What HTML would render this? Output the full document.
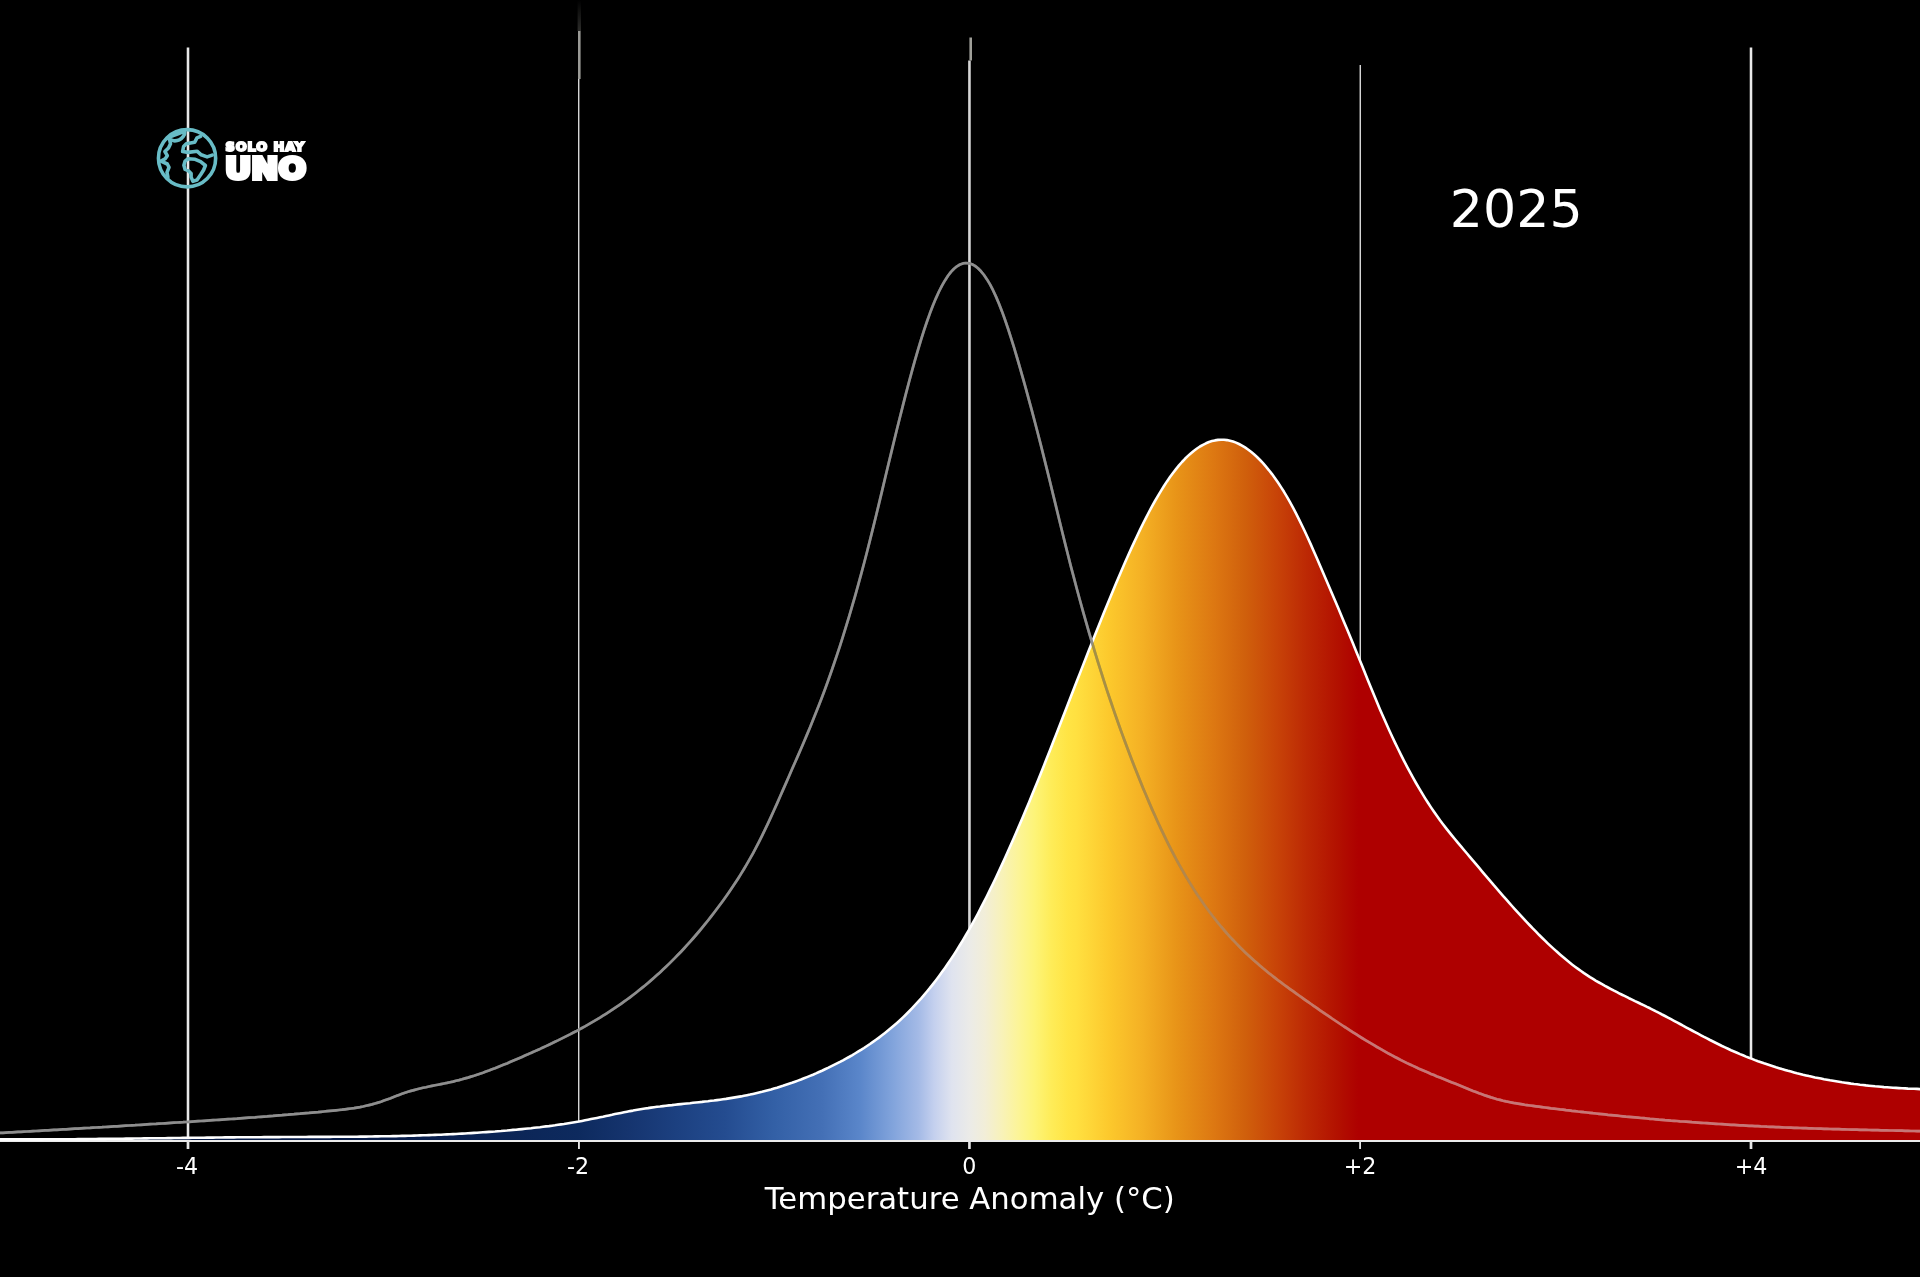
<!DOCTYPE html>
<html lang="es"><head><meta charset="utf-8"><title>Temperature Anomaly 2025</title>
<style>
html,body{margin:0;padding:0;background:#000;}
body{width:1920px;height:1277px;overflow:hidden;position:relative;font-family:"DejaVu Sans","Liberation Sans",sans-serif;}
svg{position:absolute;left:0;top:0;display:block}
text{font-family:"DejaVu Sans","Liberation Sans",sans-serif;fill:#fff}
.logo text{font-family:"DejaVu Sans","Liberation Sans",sans-serif;font-weight:bold;stroke:#fff}
</style></head><body>
<svg width="1920" height="1277" viewBox="0 0 1920 1277">
<defs><linearGradient id="glow" gradientUnits="userSpaceOnUse" x1="0" y1="0" x2="0" y2="31"><stop offset="0" stop-color="#8c8c86" stop-opacity="0"/><stop offset="1" stop-color="#8c8c86" stop-opacity="0.32"/></linearGradient><linearGradient id="g" gradientUnits="userSpaceOnUse" x1="0" y1="0" x2="1920" y2="0"><stop offset="0.1995" stop-color="#081c48"/><stop offset="0.3013" stop-color="#0d2a5e"/><stop offset="0.3267" stop-color="#15346e"/><stop offset="0.3522" stop-color="#1c4080"/><stop offset="0.3776" stop-color="#244c90"/><stop offset="0.4031" stop-color="#3360a6"/><stop offset="0.4285" stop-color="#4470b6"/><stop offset="0.4479" stop-color="#5a86ca"/><stop offset="0.4652" stop-color="#82a4dc"/><stop offset="0.4784" stop-color="#a4bae6"/><stop offset="0.4865" stop-color="#c4d0ee"/><stop offset="0.4957" stop-color="#dfe3ef"/><stop offset="0.5048" stop-color="#ebebe8"/><stop offset="0.5130" stop-color="#f2eed8"/><stop offset="0.5221" stop-color="#f8f2b8"/><stop offset="0.5303" stop-color="#fcf498"/><stop offset="0.5389" stop-color="#fdf478"/><stop offset="0.5476" stop-color="#feec58"/><stop offset="0.5562" stop-color="#ffe444"/><stop offset="0.5608" stop-color="#ffe040"/><stop offset="0.5781" stop-color="#fcc82c"/><stop offset="0.5954" stop-color="#f4b024"/><stop offset="0.6127" stop-color="#e89418"/><stop offset="0.6321" stop-color="#dd7812"/><stop offset="0.6483" stop-color="#d0600c"/><stop offset="0.6646" stop-color="#c84408"/><stop offset="0.6809" stop-color="#bc2804"/><stop offset="0.6972" stop-color="#b21000"/><stop offset="0.7074" stop-color="#ae0000"/></linearGradient></defs>
<rect width="1920" height="1277" fill="#000"/>
<!-- vertical grid lines -->
<g stroke="#e6e6e6" fill="none">
<line x1="188" y1="47.5" x2="188" y2="1149" stroke="#e8e8e8" stroke-width="2.55"/>
<line x1="578.71" y1="79" x2="578.71" y2="1149" stroke="#d4d4d4" stroke-width="1.42"/>
<rect x="577.6" y="0" width="3.4" height="31" fill="url(#glow)" stroke="none"/>
<line x1="579.3" y1="31" x2="579.3" y2="79" stroke="#9a9a96" stroke-width="2.6"/>
<line x1="969.45" y1="60.5" x2="969.45" y2="1149" stroke="#d6d6d6" stroke-width="2.6"/>
<line x1="970.7" y1="37.5" x2="970.7" y2="60.5" stroke="#a0a09a" stroke-width="2.6"/>
<line x1="1360.28" y1="65" x2="1360.28" y2="1149" stroke="#d4d4d4" stroke-width="1.45"/>
<line x1="1751" y1="47.5" x2="1751" y2="1149" stroke="#e8e8e8" stroke-width="2.55"/>
</g>
<!-- filled distribution -->
<path d="M-3.0,1139.4 L0.0,1139.4 L3.0,1139.4 L6.0,1139.4 L9.0,1139.4 L12.0,1139.4 L15.0,1139.4 L18.0,1139.4 L21.0,1139.4 L24.0,1139.4 L27.0,1139.4 L30.0,1139.4 L33.0,1139.4 L36.0,1139.4 L39.0,1139.4 L42.0,1139.4 L45.0,1139.3 L48.0,1139.3 L51.0,1139.3 L54.0,1139.3 L57.0,1139.3 L60.0,1139.3 L63.0,1139.2 L66.0,1139.2 L69.0,1139.2 L72.0,1139.2 L75.0,1139.2 L78.0,1139.1 L81.0,1139.1 L84.0,1139.1 L87.0,1139.1 L90.0,1139.0 L93.0,1139.0 L96.0,1139.0 L99.0,1138.9 L102.0,1138.9 L105.0,1138.9 L108.0,1138.8 L111.0,1138.8 L114.0,1138.8 L117.0,1138.7 L120.0,1138.7 L123.0,1138.7 L126.0,1138.6 L129.0,1138.6 L132.0,1138.6 L135.0,1138.5 L138.0,1138.5 L141.0,1138.5 L144.0,1138.4 L147.0,1138.4 L150.0,1138.3 L153.0,1138.3 L156.0,1138.3 L159.0,1138.2 L162.0,1138.2 L165.0,1138.2 L168.0,1138.1 L171.0,1138.1 L174.0,1138.0 L177.0,1138.0 L180.0,1138.0 L183.0,1137.9 L186.0,1137.9 L189.0,1137.9 L192.0,1137.8 L195.0,1137.8 L198.0,1137.7 L201.0,1137.7 L204.0,1137.7 L207.0,1137.6 L210.0,1137.6 L213.0,1137.6 L216.0,1137.5 L219.0,1137.5 L222.0,1137.5 L225.0,1137.4 L228.0,1137.4 L231.0,1137.4 L234.0,1137.4 L237.0,1137.3 L240.0,1137.3 L243.0,1137.3 L246.0,1137.3 L249.0,1137.2 L252.0,1137.2 L255.0,1137.2 L258.0,1137.2 L261.0,1137.2 L264.0,1137.1 L267.0,1137.1 L270.0,1137.1 L273.0,1137.1 L276.0,1137.1 L279.0,1137.1 L282.0,1137.0 L285.0,1137.0 L288.0,1137.0 L291.0,1137.0 L294.0,1137.0 L297.0,1137.0 L300.0,1137.0 L303.0,1137.0 L306.0,1137.0 L309.0,1136.9 L312.0,1136.9 L315.0,1136.9 L318.0,1136.9 L321.0,1136.9 L324.0,1136.9 L327.0,1136.9 L330.0,1136.9 L333.0,1136.8 L336.0,1136.8 L339.0,1136.8 L342.0,1136.8 L345.0,1136.8 L348.0,1136.7 L351.0,1136.7 L354.0,1136.7 L357.0,1136.7 L360.0,1136.6 L363.0,1136.6 L366.0,1136.6 L369.0,1136.5 L372.0,1136.5 L375.0,1136.4 L378.0,1136.4 L381.0,1136.3 L384.0,1136.3 L387.0,1136.2 L390.0,1136.2 L393.0,1136.1 L396.0,1136.1 L399.0,1136.0 L402.0,1135.9 L405.0,1135.9 L408.0,1135.8 L411.0,1135.7 L414.0,1135.6 L417.0,1135.5 L420.0,1135.4 L423.0,1135.3 L426.0,1135.2 L429.0,1135.1 L432.0,1135.0 L435.0,1134.9 L438.0,1134.8 L441.0,1134.7 L444.0,1134.5 L447.0,1134.4 L450.0,1134.3 L453.0,1134.1 L456.0,1134.0 L459.0,1133.8 L462.0,1133.6 L465.0,1133.5 L468.0,1133.3 L471.0,1133.1 L474.0,1132.9 L477.0,1132.7 L480.0,1132.5 L483.0,1132.3 L486.0,1132.1 L489.0,1131.9 L492.0,1131.7 L495.0,1131.5 L498.0,1131.2 L501.0,1131.0 L504.0,1130.7 L507.0,1130.5 L510.0,1130.2 L513.0,1129.9 L516.0,1129.7 L519.0,1129.4 L522.0,1129.1 L525.0,1128.8 L528.0,1128.5 L531.0,1128.2 L534.0,1127.8 L537.0,1127.5 L540.0,1127.2 L543.0,1126.8 L546.0,1126.4 L549.0,1126.1 L552.0,1125.7 L555.0,1125.3 L558.0,1124.8 L561.0,1124.4 L564.0,1124.0 L567.0,1123.5 L570.0,1123.0 L573.0,1122.5 L576.0,1122.0 L579.0,1121.5 L582.0,1120.9 L585.0,1120.3 L588.0,1119.7 L591.0,1119.1 L594.0,1118.5 L597.0,1117.9 L600.0,1117.3 L603.0,1116.7 L606.0,1116.0 L609.0,1115.4 L612.0,1114.8 L615.0,1114.1 L618.0,1113.5 L621.0,1112.9 L624.0,1112.3 L627.0,1111.7 L630.0,1111.1 L633.0,1110.6 L636.0,1110.0 L639.0,1109.5 L642.0,1109.0 L645.0,1108.5 L648.0,1108.1 L651.0,1107.6 L654.0,1107.2 L657.0,1106.8 L660.0,1106.5 L663.0,1106.1 L666.0,1105.7 L669.0,1105.4 L672.0,1105.1 L675.0,1104.7 L678.0,1104.4 L681.0,1104.1 L684.0,1103.8 L687.0,1103.5 L690.0,1103.2 L693.0,1102.8 L696.0,1102.5 L699.0,1102.2 L702.0,1101.9 L705.0,1101.5 L708.0,1101.2 L711.0,1100.8 L714.0,1100.5 L717.0,1100.1 L720.0,1099.7 L723.0,1099.3 L726.0,1098.9 L729.0,1098.4 L732.0,1097.9 L735.0,1097.4 L738.0,1096.9 L741.0,1096.4 L744.0,1095.8 L747.0,1095.2 L750.0,1094.6 L753.0,1093.9 L756.0,1093.2 L759.0,1092.5 L762.0,1091.8 L765.0,1091.0 L768.0,1090.2 L771.0,1089.4 L774.0,1088.5 L777.0,1087.7 L780.0,1086.7 L783.0,1085.8 L786.0,1084.8 L789.0,1083.8 L792.0,1082.8 L795.0,1081.7 L798.0,1080.6 L801.0,1079.5 L804.0,1078.3 L807.0,1077.1 L810.0,1075.9 L813.0,1074.7 L816.0,1073.4 L819.0,1072.0 L822.0,1070.7 L825.0,1069.3 L828.0,1067.9 L831.0,1066.4 L834.0,1064.9 L837.0,1063.4 L840.0,1061.9 L843.0,1060.3 L846.0,1058.6 L849.0,1057.0 L852.0,1055.3 L855.0,1053.5 L858.0,1051.7 L861.0,1049.9 L864.0,1048.0 L867.0,1046.0 L870.0,1044.0 L873.0,1041.9 L876.0,1039.8 L879.0,1037.6 L882.0,1035.3 L885.0,1033.0 L888.0,1030.6 L891.0,1028.1 L894.0,1025.5 L897.0,1022.9 L900.0,1020.2 L903.0,1017.4 L906.0,1014.5 L909.0,1011.5 L912.0,1008.4 L915.0,1005.2 L918.0,1001.9 L921.0,998.6 L924.0,995.1 L927.0,991.5 L930.0,987.9 L933.0,984.1 L936.0,980.2 L939.0,976.2 L942.0,972.1 L945.0,967.9 L948.0,963.6 L951.0,959.1 L954.0,954.6 L957.0,949.9 L960.0,945.0 L963.0,940.1 L966.0,935.0 L969.0,929.8 L972.0,924.5 L975.0,919.0 L978.0,913.5 L981.0,907.7 L984.0,901.9 L987.0,896.0 L990.0,889.9 L993.0,883.7 L996.0,877.5 L999.0,871.1 L1002.0,864.6 L1005.0,858.0 L1008.0,851.4 L1011.0,844.6 L1014.0,837.8 L1017.0,830.8 L1020.0,823.8 L1023.0,816.8 L1026.0,809.6 L1029.0,802.4 L1032.0,795.1 L1035.0,787.8 L1038.0,780.4 L1041.0,772.9 L1044.0,765.4 L1047.0,757.8 L1050.0,750.2 L1053.0,742.6 L1056.0,734.9 L1059.0,727.2 L1062.0,719.5 L1065.0,711.8 L1068.0,704.0 L1071.0,696.3 L1074.0,688.5 L1077.0,680.8 L1080.0,673.1 L1083.0,665.4 L1086.0,657.7 L1089.0,650.1 L1092.0,642.5 L1095.0,634.9 L1098.0,627.4 L1101.0,620.0 L1104.0,612.6 L1107.0,605.3 L1110.0,598.0 L1113.0,590.8 L1116.0,583.6 L1119.0,576.5 L1122.0,569.5 L1125.0,562.6 L1128.0,555.8 L1131.0,549.1 L1134.0,542.6 L1137.0,536.2 L1140.0,529.9 L1143.0,523.8 L1146.0,517.8 L1149.0,512.0 L1152.0,506.4 L1155.0,501.0 L1158.0,495.8 L1161.0,490.8 L1164.0,486.0 L1167.0,481.4 L1170.0,477.1 L1173.0,473.0 L1176.0,469.1 L1179.0,465.4 L1182.0,462.0 L1185.0,458.8 L1188.0,455.9 L1191.0,453.2 L1194.0,450.7 L1197.0,448.5 L1200.0,446.5 L1203.0,444.8 L1206.0,443.3 L1209.0,442.0 L1212.0,441.1 L1215.0,440.4 L1218.0,439.9 L1221.0,439.7 L1224.0,439.8 L1227.0,440.1 L1230.0,440.7 L1233.0,441.5 L1236.0,442.6 L1239.0,444.0 L1242.0,445.6 L1245.0,447.4 L1248.0,449.5 L1251.0,451.8 L1254.0,454.3 L1257.0,457.0 L1260.0,460.0 L1263.0,463.2 L1266.0,466.7 L1269.0,470.3 L1272.0,474.1 L1275.0,478.2 L1278.0,482.5 L1281.0,487.1 L1284.0,491.8 L1287.0,496.8 L1290.0,502.1 L1293.0,507.6 L1296.0,513.3 L1299.0,519.3 L1302.0,525.5 L1305.0,531.8 L1308.0,538.3 L1311.0,544.9 L1314.0,551.7 L1317.0,558.5 L1320.0,565.4 L1323.0,572.4 L1326.0,579.4 L1329.0,586.4 L1332.0,593.5 L1335.0,600.5 L1338.0,607.6 L1341.0,614.7 L1344.0,621.9 L1347.0,629.1 L1350.0,636.3 L1353.0,643.6 L1356.0,650.9 L1359.0,658.2 L1362.0,665.6 L1365.0,673.0 L1368.0,680.5 L1371.0,687.8 L1374.0,695.1 L1377.0,702.3 L1380.0,709.4 L1383.0,716.3 L1386.0,723.1 L1389.0,729.8 L1392.0,736.3 L1395.0,742.6 L1398.0,748.8 L1401.0,754.9 L1404.0,760.8 L1407.0,766.6 L1410.0,772.2 L1413.0,777.7 L1416.0,783.0 L1419.0,788.2 L1422.0,793.2 L1425.0,798.1 L1428.0,802.8 L1431.0,807.4 L1434.0,811.8 L1437.0,816.1 L1440.0,820.3 L1443.0,824.2 L1446.0,828.1 L1449.0,831.9 L1452.0,835.6 L1455.0,839.3 L1458.0,842.9 L1461.0,846.4 L1464.0,850.0 L1467.0,853.5 L1470.0,857.1 L1473.0,860.6 L1476.0,864.2 L1479.0,867.7 L1482.0,871.3 L1485.0,874.8 L1488.0,878.3 L1491.0,881.8 L1494.0,885.4 L1497.0,888.8 L1500.0,892.3 L1503.0,895.8 L1506.0,899.2 L1509.0,902.6 L1512.0,906.0 L1515.0,909.3 L1518.0,912.6 L1521.0,915.9 L1524.0,919.2 L1527.0,922.4 L1530.0,925.5 L1533.0,928.7 L1536.0,931.7 L1539.0,934.8 L1542.0,937.7 L1545.0,940.7 L1548.0,943.6 L1551.0,946.4 L1554.0,949.1 L1557.0,951.8 L1560.0,954.5 L1563.0,957.1 L1566.0,959.6 L1569.0,962.0 L1572.0,964.4 L1575.0,966.7 L1578.0,968.9 L1581.0,971.0 L1584.0,973.1 L1587.0,975.1 L1590.0,977.1 L1593.0,978.9 L1596.0,980.8 L1599.0,982.5 L1602.0,984.2 L1605.0,985.9 L1608.0,987.5 L1611.0,989.1 L1614.0,990.7 L1617.0,992.2 L1620.0,993.8 L1623.0,995.2 L1626.0,996.7 L1629.0,998.2 L1632.0,999.6 L1635.0,1001.1 L1638.0,1002.5 L1641.0,1004.0 L1644.0,1005.4 L1647.0,1006.9 L1650.0,1008.3 L1653.0,1009.8 L1656.0,1011.4 L1659.0,1012.9 L1662.0,1014.5 L1665.0,1016.0 L1668.0,1017.6 L1671.0,1019.2 L1674.0,1020.8 L1677.0,1022.4 L1680.0,1024.0 L1683.0,1025.7 L1686.0,1027.3 L1689.0,1028.9 L1692.0,1030.5 L1695.0,1032.1 L1698.0,1033.7 L1701.0,1035.3 L1704.0,1036.9 L1707.0,1038.4 L1710.0,1040.0 L1713.0,1041.5 L1716.0,1043.0 L1719.0,1044.5 L1722.0,1046.0 L1725.0,1047.4 L1728.0,1048.8 L1731.0,1050.2 L1734.0,1051.5 L1737.0,1052.8 L1740.0,1054.1 L1743.0,1055.3 L1746.0,1056.6 L1749.0,1057.8 L1752.0,1058.9 L1755.0,1060.1 L1758.0,1061.2 L1761.0,1062.2 L1764.0,1063.3 L1767.0,1064.3 L1770.0,1065.3 L1773.0,1066.3 L1776.0,1067.3 L1779.0,1068.2 L1782.0,1069.1 L1785.0,1069.9 L1788.0,1070.8 L1791.0,1071.6 L1794.0,1072.4 L1797.0,1073.2 L1800.0,1073.9 L1803.0,1074.7 L1806.0,1075.4 L1809.0,1076.1 L1812.0,1076.7 L1815.0,1077.4 L1818.0,1078.0 L1821.0,1078.6 L1824.0,1079.2 L1827.0,1079.7 L1830.0,1080.3 L1833.0,1080.8 L1836.0,1081.3 L1839.0,1081.8 L1842.0,1082.3 L1845.0,1082.7 L1848.0,1083.1 L1851.0,1083.6 L1854.0,1084.0 L1857.0,1084.3 L1860.0,1084.7 L1863.0,1085.0 L1866.0,1085.4 L1869.0,1085.7 L1872.0,1086.0 L1875.0,1086.3 L1878.0,1086.5 L1881.0,1086.8 L1884.0,1087.1 L1887.0,1087.3 L1890.0,1087.5 L1893.0,1087.7 L1896.0,1087.9 L1899.0,1088.1 L1902.0,1088.3 L1905.0,1088.4 L1908.0,1088.6 L1911.0,1088.7 L1914.0,1088.8 L1917.0,1088.9 L1920.0,1089.1 L1923.0,1089.2 L1920,1141.0 L0,1141.0 Z" fill="url(#g)"/>
<!-- axis -->
<line x1="0" y1="1141.0" x2="1920" y2="1141.0" stroke="#ececec" stroke-width="2"/>
<g stroke="#e6e6e6" stroke-width="1.6">
<line x1="579" y1="1141" x2="579" y2="1149"/><line x1="969.4" y1="1141" x2="969.4" y2="1149"/><line x1="1360.1" y1="1141" x2="1360.1" y2="1149"/>
<line x1="188" y1="1141" x2="188" y2="1149" stroke-width="2.2"/><line x1="1751" y1="1141" x2="1751" y2="1149" stroke-width="2.2"/>
</g>
<path d="M-3.0,1139.4 L0.0,1139.4 L3.0,1139.4 L6.0,1139.4 L9.0,1139.4 L12.0,1139.4 L15.0,1139.4 L18.0,1139.4 L21.0,1139.4 L24.0,1139.4 L27.0,1139.4 L30.0,1139.4 L33.0,1139.4 L36.0,1139.4 L39.0,1139.4 L42.0,1139.4 L45.0,1139.3 L48.0,1139.3 L51.0,1139.3 L54.0,1139.3 L57.0,1139.3 L60.0,1139.3 L63.0,1139.2 L66.0,1139.2 L69.0,1139.2 L72.0,1139.2 L75.0,1139.2 L78.0,1139.1 L81.0,1139.1 L84.0,1139.1 L87.0,1139.1 L90.0,1139.0 L93.0,1139.0 L96.0,1139.0 L99.0,1138.9 L102.0,1138.9 L105.0,1138.9 L108.0,1138.8 L111.0,1138.8 L114.0,1138.8 L117.0,1138.7 L120.0,1138.7 L123.0,1138.7 L126.0,1138.6 L129.0,1138.6 L132.0,1138.6 L135.0,1138.5 L138.0,1138.5 L141.0,1138.5 L144.0,1138.4 L147.0,1138.4 L150.0,1138.3 L153.0,1138.3 L156.0,1138.3 L159.0,1138.2 L162.0,1138.2 L165.0,1138.2 L168.0,1138.1 L171.0,1138.1 L174.0,1138.0 L177.0,1138.0 L180.0,1138.0 L183.0,1137.9 L186.0,1137.9 L189.0,1137.9 L192.0,1137.8 L195.0,1137.8 L198.0,1137.7 L201.0,1137.7 L204.0,1137.7 L207.0,1137.6 L210.0,1137.6 L213.0,1137.6 L216.0,1137.5 L219.0,1137.5 L222.0,1137.5 L225.0,1137.4 L228.0,1137.4 L231.0,1137.4 L234.0,1137.4 L237.0,1137.3 L240.0,1137.3 L243.0,1137.3 L246.0,1137.3 L249.0,1137.2 L252.0,1137.2 L255.0,1137.2 L258.0,1137.2 L261.0,1137.2 L264.0,1137.1 L267.0,1137.1 L270.0,1137.1 L273.0,1137.1 L276.0,1137.1 L279.0,1137.1 L282.0,1137.0 L285.0,1137.0 L288.0,1137.0 L291.0,1137.0 L294.0,1137.0 L297.0,1137.0 L300.0,1137.0 L303.0,1137.0 L306.0,1137.0 L309.0,1136.9 L312.0,1136.9 L315.0,1136.9 L318.0,1136.9 L321.0,1136.9 L324.0,1136.9 L327.0,1136.9 L330.0,1136.9 L333.0,1136.8 L336.0,1136.8 L339.0,1136.8 L342.0,1136.8 L345.0,1136.8 L348.0,1136.7 L351.0,1136.7 L354.0,1136.7 L357.0,1136.7 L360.0,1136.6 L363.0,1136.6 L366.0,1136.6 L369.0,1136.5 L372.0,1136.5 L375.0,1136.4 L378.0,1136.4 L381.0,1136.3 L384.0,1136.3 L387.0,1136.2 L390.0,1136.2 L393.0,1136.1 L396.0,1136.1 L399.0,1136.0 L402.0,1135.9 L405.0,1135.9 L408.0,1135.8 L411.0,1135.7 L414.0,1135.6 L417.0,1135.5 L420.0,1135.4 L423.0,1135.3 L426.0,1135.2 L429.0,1135.1 L432.0,1135.0 L435.0,1134.9 L438.0,1134.8 L441.0,1134.7 L444.0,1134.5 L447.0,1134.4 L450.0,1134.3 L453.0,1134.1 L456.0,1134.0 L459.0,1133.8 L462.0,1133.6 L465.0,1133.5 L468.0,1133.3 L471.0,1133.1 L474.0,1132.9 L477.0,1132.7 L480.0,1132.5 L483.0,1132.3 L486.0,1132.1 L489.0,1131.9 L492.0,1131.7 L495.0,1131.5 L498.0,1131.2 L501.0,1131.0 L504.0,1130.7 L507.0,1130.5 L510.0,1130.2 L513.0,1129.9 L516.0,1129.7 L519.0,1129.4 L522.0,1129.1 L525.0,1128.8 L528.0,1128.5 L531.0,1128.2 L534.0,1127.8 L537.0,1127.5 L540.0,1127.2 L543.0,1126.8 L546.0,1126.4 L549.0,1126.1 L552.0,1125.7 L555.0,1125.3 L558.0,1124.8 L561.0,1124.4 L564.0,1124.0 L567.0,1123.5 L570.0,1123.0 L573.0,1122.5 L576.0,1122.0 L579.0,1121.5 L582.0,1120.9 L585.0,1120.3 L588.0,1119.7 L591.0,1119.1 L594.0,1118.5 L597.0,1117.9 L600.0,1117.3 L603.0,1116.7 L606.0,1116.0 L609.0,1115.4 L612.0,1114.8 L615.0,1114.1 L618.0,1113.5 L621.0,1112.9 L624.0,1112.3 L627.0,1111.7 L630.0,1111.1 L633.0,1110.6 L636.0,1110.0 L639.0,1109.5 L642.0,1109.0 L645.0,1108.5 L648.0,1108.1 L651.0,1107.6 L654.0,1107.2 L657.0,1106.8 L660.0,1106.5 L663.0,1106.1 L666.0,1105.7 L669.0,1105.4 L672.0,1105.1 L675.0,1104.7 L678.0,1104.4 L681.0,1104.1 L684.0,1103.8 L687.0,1103.5 L690.0,1103.2 L693.0,1102.8 L696.0,1102.5 L699.0,1102.2 L702.0,1101.9 L705.0,1101.5 L708.0,1101.2 L711.0,1100.8 L714.0,1100.5 L717.0,1100.1 L720.0,1099.7 L723.0,1099.3 L726.0,1098.9 L729.0,1098.4 L732.0,1097.9 L735.0,1097.4 L738.0,1096.9 L741.0,1096.4 L744.0,1095.8 L747.0,1095.2 L750.0,1094.6 L753.0,1093.9 L756.0,1093.2 L759.0,1092.5 L762.0,1091.8 L765.0,1091.0 L768.0,1090.2 L771.0,1089.4 L774.0,1088.5 L777.0,1087.7 L780.0,1086.7 L783.0,1085.8 L786.0,1084.8 L789.0,1083.8 L792.0,1082.8 L795.0,1081.7 L798.0,1080.6 L801.0,1079.5 L804.0,1078.3 L807.0,1077.1 L810.0,1075.9 L813.0,1074.7 L816.0,1073.4 L819.0,1072.0 L822.0,1070.7 L825.0,1069.3 L828.0,1067.9 L831.0,1066.4 L834.0,1064.9 L837.0,1063.4 L840.0,1061.9 L843.0,1060.3 L846.0,1058.6 L849.0,1057.0 L852.0,1055.3 L855.0,1053.5 L858.0,1051.7 L861.0,1049.9 L864.0,1048.0 L867.0,1046.0 L870.0,1044.0 L873.0,1041.9 L876.0,1039.8 L879.0,1037.6 L882.0,1035.3 L885.0,1033.0 L888.0,1030.6 L891.0,1028.1 L894.0,1025.5 L897.0,1022.9 L900.0,1020.2 L903.0,1017.4 L906.0,1014.5 L909.0,1011.5 L912.0,1008.4 L915.0,1005.2 L918.0,1001.9 L921.0,998.6 L924.0,995.1 L927.0,991.5 L930.0,987.9 L933.0,984.1 L936.0,980.2 L939.0,976.2 L942.0,972.1 L945.0,967.9 L948.0,963.6 L951.0,959.1 L954.0,954.6 L957.0,949.9 L960.0,945.0 L963.0,940.1 L966.0,935.0 L969.0,929.8 L972.0,924.5 L975.0,919.0 L978.0,913.5 L981.0,907.7 L984.0,901.9 L987.0,896.0 L990.0,889.9 L993.0,883.7 L996.0,877.5 L999.0,871.1 L1002.0,864.6 L1005.0,858.0 L1008.0,851.4 L1011.0,844.6 L1014.0,837.8 L1017.0,830.8 L1020.0,823.8 L1023.0,816.8 L1026.0,809.6 L1029.0,802.4 L1032.0,795.1 L1035.0,787.8 L1038.0,780.4 L1041.0,772.9 L1044.0,765.4 L1047.0,757.8 L1050.0,750.2 L1053.0,742.6 L1056.0,734.9 L1059.0,727.2 L1062.0,719.5 L1065.0,711.8 L1068.0,704.0 L1071.0,696.3 L1074.0,688.5 L1077.0,680.8 L1080.0,673.1 L1083.0,665.4 L1086.0,657.7 L1089.0,650.1 L1092.0,642.5 L1095.0,634.9 L1098.0,627.4 L1101.0,620.0 L1104.0,612.6 L1107.0,605.3 L1110.0,598.0 L1113.0,590.8 L1116.0,583.6 L1119.0,576.5 L1122.0,569.5 L1125.0,562.6 L1128.0,555.8 L1131.0,549.1 L1134.0,542.6 L1137.0,536.2 L1140.0,529.9 L1143.0,523.8 L1146.0,517.8 L1149.0,512.0 L1152.0,506.4 L1155.0,501.0 L1158.0,495.8 L1161.0,490.8 L1164.0,486.0 L1167.0,481.4 L1170.0,477.1 L1173.0,473.0 L1176.0,469.1 L1179.0,465.4 L1182.0,462.0 L1185.0,458.8 L1188.0,455.9 L1191.0,453.2 L1194.0,450.7 L1197.0,448.5 L1200.0,446.5 L1203.0,444.8 L1206.0,443.3 L1209.0,442.0 L1212.0,441.1 L1215.0,440.4 L1218.0,439.9 L1221.0,439.7 L1224.0,439.8 L1227.0,440.1 L1230.0,440.7 L1233.0,441.5 L1236.0,442.6 L1239.0,444.0 L1242.0,445.6 L1245.0,447.4 L1248.0,449.5 L1251.0,451.8 L1254.0,454.3 L1257.0,457.0 L1260.0,460.0 L1263.0,463.2 L1266.0,466.7 L1269.0,470.3 L1272.0,474.1 L1275.0,478.2 L1278.0,482.5 L1281.0,487.1 L1284.0,491.8 L1287.0,496.8 L1290.0,502.1 L1293.0,507.6 L1296.0,513.3 L1299.0,519.3 L1302.0,525.5 L1305.0,531.8 L1308.0,538.3 L1311.0,544.9 L1314.0,551.7 L1317.0,558.5 L1320.0,565.4 L1323.0,572.4 L1326.0,579.4 L1329.0,586.4 L1332.0,593.5 L1335.0,600.5 L1338.0,607.6 L1341.0,614.7 L1344.0,621.9 L1347.0,629.1 L1350.0,636.3 L1353.0,643.6 L1356.0,650.9 L1359.0,658.2 L1362.0,665.6 L1365.0,673.0 L1368.0,680.5 L1371.0,687.8 L1374.0,695.1 L1377.0,702.3 L1380.0,709.4 L1383.0,716.3 L1386.0,723.1 L1389.0,729.8 L1392.0,736.3 L1395.0,742.6 L1398.0,748.8 L1401.0,754.9 L1404.0,760.8 L1407.0,766.6 L1410.0,772.2 L1413.0,777.7 L1416.0,783.0 L1419.0,788.2 L1422.0,793.2 L1425.0,798.1 L1428.0,802.8 L1431.0,807.4 L1434.0,811.8 L1437.0,816.1 L1440.0,820.3 L1443.0,824.2 L1446.0,828.1 L1449.0,831.9 L1452.0,835.6 L1455.0,839.3 L1458.0,842.9 L1461.0,846.4 L1464.0,850.0 L1467.0,853.5 L1470.0,857.1 L1473.0,860.6 L1476.0,864.2 L1479.0,867.7 L1482.0,871.3 L1485.0,874.8 L1488.0,878.3 L1491.0,881.8 L1494.0,885.4 L1497.0,888.8 L1500.0,892.3 L1503.0,895.8 L1506.0,899.2 L1509.0,902.6 L1512.0,906.0 L1515.0,909.3 L1518.0,912.6 L1521.0,915.9 L1524.0,919.2 L1527.0,922.4 L1530.0,925.5 L1533.0,928.7 L1536.0,931.7 L1539.0,934.8 L1542.0,937.7 L1545.0,940.7 L1548.0,943.6 L1551.0,946.4 L1554.0,949.1 L1557.0,951.8 L1560.0,954.5 L1563.0,957.1 L1566.0,959.6 L1569.0,962.0 L1572.0,964.4 L1575.0,966.7 L1578.0,968.9 L1581.0,971.0 L1584.0,973.1 L1587.0,975.1 L1590.0,977.1 L1593.0,978.9 L1596.0,980.8 L1599.0,982.5 L1602.0,984.2 L1605.0,985.9 L1608.0,987.5 L1611.0,989.1 L1614.0,990.7 L1617.0,992.2 L1620.0,993.8 L1623.0,995.2 L1626.0,996.7 L1629.0,998.2 L1632.0,999.6 L1635.0,1001.1 L1638.0,1002.5 L1641.0,1004.0 L1644.0,1005.4 L1647.0,1006.9 L1650.0,1008.3 L1653.0,1009.8 L1656.0,1011.4 L1659.0,1012.9 L1662.0,1014.5 L1665.0,1016.0 L1668.0,1017.6 L1671.0,1019.2 L1674.0,1020.8 L1677.0,1022.4 L1680.0,1024.0 L1683.0,1025.7 L1686.0,1027.3 L1689.0,1028.9 L1692.0,1030.5 L1695.0,1032.1 L1698.0,1033.7 L1701.0,1035.3 L1704.0,1036.9 L1707.0,1038.4 L1710.0,1040.0 L1713.0,1041.5 L1716.0,1043.0 L1719.0,1044.5 L1722.0,1046.0 L1725.0,1047.4 L1728.0,1048.8 L1731.0,1050.2 L1734.0,1051.5 L1737.0,1052.8 L1740.0,1054.1 L1743.0,1055.3 L1746.0,1056.6 L1749.0,1057.8 L1752.0,1058.9 L1755.0,1060.1 L1758.0,1061.2 L1761.0,1062.2 L1764.0,1063.3 L1767.0,1064.3 L1770.0,1065.3 L1773.0,1066.3 L1776.0,1067.3 L1779.0,1068.2 L1782.0,1069.1 L1785.0,1069.9 L1788.0,1070.8 L1791.0,1071.6 L1794.0,1072.4 L1797.0,1073.2 L1800.0,1073.9 L1803.0,1074.7 L1806.0,1075.4 L1809.0,1076.1 L1812.0,1076.7 L1815.0,1077.4 L1818.0,1078.0 L1821.0,1078.6 L1824.0,1079.2 L1827.0,1079.7 L1830.0,1080.3 L1833.0,1080.8 L1836.0,1081.3 L1839.0,1081.8 L1842.0,1082.3 L1845.0,1082.7 L1848.0,1083.1 L1851.0,1083.6 L1854.0,1084.0 L1857.0,1084.3 L1860.0,1084.7 L1863.0,1085.0 L1866.0,1085.4 L1869.0,1085.7 L1872.0,1086.0 L1875.0,1086.3 L1878.0,1086.5 L1881.0,1086.8 L1884.0,1087.1 L1887.0,1087.3 L1890.0,1087.5 L1893.0,1087.7 L1896.0,1087.9 L1899.0,1088.1 L1902.0,1088.3 L1905.0,1088.4 L1908.0,1088.6 L1911.0,1088.7 L1914.0,1088.8 L1917.0,1088.9 L1920.0,1089.1 L1923.0,1089.2" fill="none" stroke="#fff" stroke-width="2.6" stroke-linejoin="round"/>
<path d="M-3.0,1133.1 L0.0,1132.9 L3.0,1132.8 L6.0,1132.6 L9.0,1132.4 L12.0,1132.3 L15.0,1132.1 L18.0,1131.9 L21.0,1131.8 L24.0,1131.6 L27.0,1131.5 L30.0,1131.3 L33.0,1131.1 L36.0,1131.0 L39.0,1130.8 L42.0,1130.6 L45.0,1130.4 L48.0,1130.3 L51.0,1130.1 L54.0,1129.9 L57.0,1129.8 L60.0,1129.6 L63.0,1129.4 L66.0,1129.3 L69.0,1129.1 L72.0,1128.9 L75.0,1128.7 L78.0,1128.6 L81.0,1128.4 L84.0,1128.2 L87.0,1128.0 L90.0,1127.9 L93.0,1127.7 L96.0,1127.5 L99.0,1127.3 L102.0,1127.2 L105.0,1127.0 L108.0,1126.8 L111.0,1126.6 L114.0,1126.4 L117.0,1126.3 L120.0,1126.1 L123.0,1125.9 L126.0,1125.7 L129.0,1125.5 L132.0,1125.3 L135.0,1125.2 L138.0,1125.0 L141.0,1124.8 L144.0,1124.6 L147.0,1124.4 L150.0,1124.2 L153.0,1124.0 L156.0,1123.9 L159.0,1123.7 L162.0,1123.5 L165.0,1123.3 L168.0,1123.1 L171.0,1122.9 L174.0,1122.7 L177.0,1122.5 L180.0,1122.3 L183.0,1122.2 L186.0,1122.0 L189.0,1121.8 L192.0,1121.6 L195.0,1121.4 L198.0,1121.2 L201.0,1121.0 L204.0,1120.8 L207.0,1120.6 L210.0,1120.4 L213.0,1120.2 L216.0,1120.0 L219.0,1119.8 L222.0,1119.6 L225.0,1119.4 L228.0,1119.2 L231.0,1119.0 L234.0,1118.8 L237.0,1118.6 L240.0,1118.3 L243.0,1118.1 L246.0,1117.9 L249.0,1117.7 L252.0,1117.5 L255.0,1117.3 L258.0,1117.0 L261.0,1116.8 L264.0,1116.6 L267.0,1116.4 L270.0,1116.1 L273.0,1115.9 L276.0,1115.6 L279.0,1115.4 L282.0,1115.2 L285.0,1114.9 L288.0,1114.7 L291.0,1114.4 L294.0,1114.2 L297.0,1113.9 L300.0,1113.7 L303.0,1113.4 L306.0,1113.1 L309.0,1112.9 L312.0,1112.6 L315.0,1112.3 L318.0,1112.1 L321.0,1111.8 L324.0,1111.5 L327.0,1111.2 L330.0,1110.9 L333.0,1110.6 L336.0,1110.3 L339.0,1110.0 L342.0,1109.7 L345.0,1109.3 L348.0,1108.9 L351.0,1108.5 L354.0,1108.1 L357.0,1107.6 L360.0,1107.1 L363.0,1106.5 L366.0,1105.8 L369.0,1105.1 L372.0,1104.4 L375.0,1103.5 L378.0,1102.6 L381.0,1101.7 L384.0,1100.6 L387.0,1099.5 L390.0,1098.4 L393.0,1097.2 L396.0,1096.1 L399.0,1094.9 L402.0,1093.8 L405.0,1092.8 L408.0,1091.8 L411.0,1090.9 L414.0,1090.1 L417.0,1089.3 L420.0,1088.5 L423.0,1087.8 L426.0,1087.2 L429.0,1086.5 L432.0,1085.9 L435.0,1085.3 L438.0,1084.7 L441.0,1084.1 L444.0,1083.5 L447.0,1082.9 L450.0,1082.2 L453.0,1081.6 L456.0,1080.8 L459.0,1080.1 L462.0,1079.3 L465.0,1078.4 L468.0,1077.6 L471.0,1076.6 L474.0,1075.7 L477.0,1074.7 L480.0,1073.7 L483.0,1072.7 L486.0,1071.6 L489.0,1070.5 L492.0,1069.3 L495.0,1068.2 L498.0,1067.0 L501.0,1065.8 L504.0,1064.6 L507.0,1063.4 L510.0,1062.1 L513.0,1060.8 L516.0,1059.5 L519.0,1058.2 L522.0,1056.9 L525.0,1055.6 L528.0,1054.3 L531.0,1052.9 L534.0,1051.6 L537.0,1050.2 L540.0,1048.9 L543.0,1047.5 L546.0,1046.1 L549.0,1044.7 L552.0,1043.3 L555.0,1041.8 L558.0,1040.4 L561.0,1038.9 L564.0,1037.4 L567.0,1035.9 L570.0,1034.4 L573.0,1032.8 L576.0,1031.3 L579.0,1029.6 L582.0,1028.0 L585.0,1026.4 L588.0,1024.7 L591.0,1022.9 L594.0,1021.2 L597.0,1019.4 L600.0,1017.6 L603.0,1015.7 L606.0,1013.8 L609.0,1011.9 L612.0,1009.9 L615.0,1007.9 L618.0,1005.9 L621.0,1003.8 L624.0,1001.7 L627.0,999.5 L630.0,997.3 L633.0,995.0 L636.0,992.7 L639.0,990.3 L642.0,987.9 L645.0,985.5 L648.0,982.9 L651.0,980.4 L654.0,977.8 L657.0,975.1 L660.0,972.4 L663.0,969.6 L666.0,966.8 L669.0,963.9 L672.0,960.9 L675.0,957.9 L678.0,954.8 L681.0,951.7 L684.0,948.5 L687.0,945.2 L690.0,941.9 L693.0,938.5 L696.0,935.0 L699.0,931.5 L702.0,927.9 L705.0,924.2 L708.0,920.5 L711.0,916.7 L714.0,912.8 L717.0,908.8 L720.0,904.8 L723.0,900.7 L726.0,896.5 L729.0,892.2 L732.0,887.8 L735.0,883.3 L738.0,878.7 L741.0,873.9 L744.0,869.0 L747.0,863.9 L750.0,858.7 L753.0,853.3 L756.0,847.7 L759.0,841.9 L762.0,835.9 L765.0,829.7 L768.0,823.4 L771.0,816.9 L774.0,810.3 L777.0,803.6 L780.0,796.8 L783.0,789.9 L786.0,783.1 L789.0,776.2 L792.0,769.3 L795.0,762.5 L798.0,755.6 L801.0,748.7 L804.0,741.7 L807.0,734.6 L810.0,727.4 L813.0,720.1 L816.0,712.6 L819.0,705.0 L822.0,697.2 L825.0,689.2 L828.0,681.0 L831.0,672.5 L834.0,663.8 L837.0,654.9 L840.0,645.8 L843.0,636.4 L846.0,626.7 L849.0,616.8 L852.0,606.7 L855.0,596.3 L858.0,585.6 L861.0,574.7 L864.0,563.5 L867.0,552.0 L870.0,540.2 L873.0,528.2 L876.0,516.0 L879.0,503.6 L882.0,491.1 L885.0,478.5 L888.0,466.0 L891.0,453.6 L894.0,441.2 L897.0,429.0 L900.0,417.0 L903.0,405.1 L906.0,393.4 L909.0,382.0 L912.0,370.9 L915.0,360.1 L918.0,349.8 L921.0,339.9 L924.0,330.4 L927.0,321.5 L930.0,313.1 L933.0,305.3 L936.0,298.1 L939.0,291.5 L942.0,285.6 L945.0,280.4 L948.0,275.8 L951.0,271.9 L954.0,268.8 L957.0,266.3 L960.0,264.5 L963.0,263.4 L966.0,263.0 L969.0,263.3 L972.0,264.3 L975.0,265.9 L978.0,268.3 L981.0,271.3 L984.0,275.0 L987.0,279.4 L990.0,284.4 L993.0,290.2 L996.0,296.6 L999.0,303.7 L1002.0,311.4 L1005.0,319.7 L1008.0,328.5 L1011.0,337.8 L1014.0,347.4 L1017.0,357.5 L1020.0,367.8 L1023.0,378.3 L1026.0,389.1 L1029.0,400.1 L1032.0,411.2 L1035.0,422.5 L1038.0,434.0 L1041.0,445.7 L1044.0,457.6 L1047.0,469.6 L1050.0,481.8 L1053.0,494.1 L1056.0,506.4 L1059.0,518.7 L1062.0,531.0 L1065.0,543.1 L1068.0,555.0 L1071.0,566.8 L1074.0,578.2 L1077.0,589.5 L1080.0,600.5 L1083.0,611.3 L1086.0,621.9 L1089.0,632.3 L1092.0,642.4 L1095.0,652.4 L1098.0,662.2 L1101.0,671.7 L1104.0,681.1 L1107.0,690.3 L1110.0,699.3 L1113.0,708.1 L1116.0,716.8 L1119.0,725.3 L1122.0,733.6 L1125.0,741.8 L1128.0,749.8 L1131.0,757.7 L1134.0,765.5 L1137.0,773.1 L1140.0,780.5 L1143.0,787.9 L1146.0,795.1 L1149.0,802.1 L1152.0,809.1 L1155.0,815.8 L1158.0,822.5 L1161.0,828.9 L1164.0,835.2 L1167.0,841.4 L1170.0,847.4 L1173.0,853.2 L1176.0,858.9 L1179.0,864.4 L1182.0,869.7 L1185.0,874.9 L1188.0,879.9 L1191.0,884.8 L1194.0,889.6 L1197.0,894.2 L1200.0,898.6 L1203.0,903.0 L1206.0,907.2 L1209.0,911.3 L1212.0,915.2 L1215.0,919.1 L1218.0,922.8 L1221.0,926.5 L1224.0,930.0 L1227.0,933.5 L1230.0,936.8 L1233.0,940.0 L1236.0,943.2 L1239.0,946.3 L1242.0,949.3 L1245.0,952.2 L1248.0,955.0 L1251.0,957.8 L1254.0,960.5 L1257.0,963.1 L1260.0,965.7 L1263.0,968.3 L1266.0,970.7 L1269.0,973.2 L1272.0,975.5 L1275.0,977.9 L1278.0,980.2 L1281.0,982.4 L1284.0,984.7 L1287.0,986.9 L1290.0,989.1 L1293.0,991.2 L1296.0,993.4 L1299.0,995.5 L1302.0,997.6 L1305.0,999.8 L1308.0,1001.9 L1311.0,1004.0 L1314.0,1006.1 L1317.0,1008.2 L1320.0,1010.3 L1323.0,1012.3 L1326.0,1014.4 L1329.0,1016.4 L1332.0,1018.5 L1335.0,1020.5 L1338.0,1022.5 L1341.0,1024.5 L1344.0,1026.5 L1347.0,1028.4 L1350.0,1030.4 L1353.0,1032.3 L1356.0,1034.2 L1359.0,1036.1 L1362.0,1038.0 L1365.0,1039.8 L1368.0,1041.6 L1371.0,1043.4 L1374.0,1045.2 L1377.0,1047.0 L1380.0,1048.7 L1383.0,1050.4 L1386.0,1052.1 L1389.0,1053.8 L1392.0,1055.4 L1395.0,1057.0 L1398.0,1058.5 L1401.0,1060.1 L1404.0,1061.6 L1407.0,1063.1 L1410.0,1064.5 L1413.0,1065.9 L1416.0,1067.3 L1419.0,1068.7 L1422.0,1070.0 L1425.0,1071.3 L1428.0,1072.6 L1431.0,1073.9 L1434.0,1075.1 L1437.0,1076.4 L1440.0,1077.6 L1443.0,1078.8 L1446.0,1080.0 L1449.0,1081.2 L1452.0,1082.4 L1455.0,1083.6 L1458.0,1084.8 L1461.0,1086.0 L1464.0,1087.2 L1467.0,1088.4 L1470.0,1089.7 L1473.0,1090.9 L1476.0,1092.0 L1479.0,1093.2 L1482.0,1094.3 L1485.0,1095.4 L1488.0,1096.4 L1491.0,1097.4 L1494.0,1098.3 L1497.0,1099.2 L1500.0,1099.9 L1503.0,1100.7 L1506.0,1101.4 L1509.0,1102.0 L1512.0,1102.6 L1515.0,1103.2 L1518.0,1103.7 L1521.0,1104.2 L1524.0,1104.7 L1527.0,1105.1 L1530.0,1105.5 L1533.0,1105.9 L1536.0,1106.3 L1539.0,1106.7 L1542.0,1107.1 L1545.0,1107.5 L1548.0,1107.9 L1551.0,1108.3 L1554.0,1108.6 L1557.0,1109.0 L1560.0,1109.4 L1563.0,1109.7 L1566.0,1110.1 L1569.0,1110.4 L1572.0,1110.8 L1575.0,1111.1 L1578.0,1111.5 L1581.0,1111.8 L1584.0,1112.2 L1587.0,1112.5 L1590.0,1112.8 L1593.0,1113.2 L1596.0,1113.5 L1599.0,1113.8 L1602.0,1114.1 L1605.0,1114.4 L1608.0,1114.8 L1611.0,1115.1 L1614.0,1115.4 L1617.0,1115.7 L1620.0,1116.0 L1623.0,1116.3 L1626.0,1116.6 L1629.0,1116.8 L1632.0,1117.1 L1635.0,1117.4 L1638.0,1117.7 L1641.0,1118.0 L1644.0,1118.2 L1647.0,1118.5 L1650.0,1118.8 L1653.0,1119.0 L1656.0,1119.3 L1659.0,1119.6 L1662.0,1119.8 L1665.0,1120.1 L1668.0,1120.3 L1671.0,1120.6 L1674.0,1120.8 L1677.0,1121.0 L1680.0,1121.3 L1683.0,1121.5 L1686.0,1121.7 L1689.0,1121.9 L1692.0,1122.2 L1695.0,1122.4 L1698.0,1122.6 L1701.0,1122.8 L1704.0,1123.0 L1707.0,1123.2 L1710.0,1123.4 L1713.0,1123.6 L1716.0,1123.8 L1719.0,1124.0 L1722.0,1124.2 L1725.0,1124.4 L1728.0,1124.6 L1731.0,1124.8 L1734.0,1124.9 L1737.0,1125.1 L1740.0,1125.3 L1743.0,1125.4 L1746.0,1125.6 L1749.0,1125.8 L1752.0,1125.9 L1755.0,1126.1 L1758.0,1126.2 L1761.0,1126.4 L1764.0,1126.5 L1767.0,1126.7 L1770.0,1126.8 L1773.0,1126.9 L1776.0,1127.1 L1779.0,1127.2 L1782.0,1127.3 L1785.0,1127.5 L1788.0,1127.6 L1791.0,1127.7 L1794.0,1127.8 L1797.0,1127.9 L1800.0,1128.0 L1803.0,1128.1 L1806.0,1128.2 L1809.0,1128.3 L1812.0,1128.4 L1815.0,1128.5 L1818.0,1128.6 L1821.0,1128.7 L1824.0,1128.8 L1827.0,1128.9 L1830.0,1129.0 L1833.0,1129.1 L1836.0,1129.2 L1839.0,1129.2 L1842.0,1129.3 L1845.0,1129.4 L1848.0,1129.5 L1851.0,1129.6 L1854.0,1129.6 L1857.0,1129.7 L1860.0,1129.8 L1863.0,1129.8 L1866.0,1129.9 L1869.0,1130.0 L1872.0,1130.1 L1875.0,1130.1 L1878.0,1130.2 L1881.0,1130.3 L1884.0,1130.3 L1887.0,1130.4 L1890.0,1130.5 L1893.0,1130.5 L1896.0,1130.6 L1899.0,1130.7 L1902.0,1130.7 L1905.0,1130.8 L1908.0,1130.9 L1911.0,1131.0 L1914.0,1131.0 L1917.0,1131.1 L1920.0,1131.2 L1923.0,1131.2" fill="none" stroke="#8e8e8e" stroke-width="2.7" stroke-linejoin="round" style="mix-blend-mode:luminosity"/>
<path d="M-3.0,1133.1 L0.0,1132.9 L3.0,1132.8 L6.0,1132.6 L9.0,1132.4 L12.0,1132.3 L15.0,1132.1 L18.0,1131.9 L21.0,1131.8 L24.0,1131.6 L27.0,1131.5 L30.0,1131.3 L33.0,1131.1 L36.0,1131.0 L39.0,1130.8 L42.0,1130.6 L45.0,1130.4 L48.0,1130.3 L51.0,1130.1 L54.0,1129.9 L57.0,1129.8 L60.0,1129.6 L63.0,1129.4 L66.0,1129.3 L69.0,1129.1 L72.0,1128.9 L75.0,1128.7 L78.0,1128.6 L81.0,1128.4 L84.0,1128.2 L87.0,1128.0 L90.0,1127.9 L93.0,1127.7 L96.0,1127.5 L99.0,1127.3 L102.0,1127.2 L105.0,1127.0 L108.0,1126.8 L111.0,1126.6 L114.0,1126.4 L117.0,1126.3 L120.0,1126.1 L123.0,1125.9 L126.0,1125.7 L129.0,1125.5 L132.0,1125.3 L135.0,1125.2 L138.0,1125.0 L141.0,1124.8 L144.0,1124.6 L147.0,1124.4 L150.0,1124.2 L153.0,1124.0 L156.0,1123.9 L159.0,1123.7 L162.0,1123.5 L165.0,1123.3 L168.0,1123.1 L171.0,1122.9 L174.0,1122.7 L177.0,1122.5 L180.0,1122.3 L183.0,1122.2 L186.0,1122.0 L189.0,1121.8 L192.0,1121.6 L195.0,1121.4 L198.0,1121.2 L201.0,1121.0 L204.0,1120.8 L207.0,1120.6 L210.0,1120.4 L213.0,1120.2 L216.0,1120.0 L219.0,1119.8 L222.0,1119.6 L225.0,1119.4 L228.0,1119.2 L231.0,1119.0 L234.0,1118.8 L237.0,1118.6 L240.0,1118.3 L243.0,1118.1 L246.0,1117.9 L249.0,1117.7 L252.0,1117.5 L255.0,1117.3 L258.0,1117.0 L261.0,1116.8 L264.0,1116.6 L267.0,1116.4 L270.0,1116.1 L273.0,1115.9 L276.0,1115.6 L279.0,1115.4 L282.0,1115.2 L285.0,1114.9 L288.0,1114.7 L291.0,1114.4 L294.0,1114.2 L297.0,1113.9 L300.0,1113.7 L303.0,1113.4 L306.0,1113.1 L309.0,1112.9 L312.0,1112.6 L315.0,1112.3 L318.0,1112.1 L321.0,1111.8 L324.0,1111.5 L327.0,1111.2 L330.0,1110.9 L333.0,1110.6 L336.0,1110.3 L339.0,1110.0 L342.0,1109.7 L345.0,1109.3 L348.0,1108.9 L351.0,1108.5 L354.0,1108.1 L357.0,1107.6 L360.0,1107.1 L363.0,1106.5 L366.0,1105.8 L369.0,1105.1 L372.0,1104.4 L375.0,1103.5 L378.0,1102.6 L381.0,1101.7 L384.0,1100.6 L387.0,1099.5 L390.0,1098.4 L393.0,1097.2 L396.0,1096.1 L399.0,1094.9 L402.0,1093.8 L405.0,1092.8 L408.0,1091.8 L411.0,1090.9 L414.0,1090.1 L417.0,1089.3 L420.0,1088.5 L423.0,1087.8 L426.0,1087.2 L429.0,1086.5 L432.0,1085.9 L435.0,1085.3 L438.0,1084.7 L441.0,1084.1 L444.0,1083.5 L447.0,1082.9 L450.0,1082.2 L453.0,1081.6 L456.0,1080.8 L459.0,1080.1 L462.0,1079.3 L465.0,1078.4 L468.0,1077.6 L471.0,1076.6 L474.0,1075.7 L477.0,1074.7 L480.0,1073.7 L483.0,1072.7 L486.0,1071.6 L489.0,1070.5 L492.0,1069.3 L495.0,1068.2 L498.0,1067.0 L501.0,1065.8 L504.0,1064.6 L507.0,1063.4 L510.0,1062.1 L513.0,1060.8 L516.0,1059.5 L519.0,1058.2 L522.0,1056.9 L525.0,1055.6 L528.0,1054.3 L531.0,1052.9 L534.0,1051.6 L537.0,1050.2 L540.0,1048.9 L543.0,1047.5 L546.0,1046.1 L549.0,1044.7 L552.0,1043.3 L555.0,1041.8 L558.0,1040.4 L561.0,1038.9 L564.0,1037.4 L567.0,1035.9 L570.0,1034.4 L573.0,1032.8 L576.0,1031.3 L579.0,1029.6 L582.0,1028.0 L585.0,1026.4 L588.0,1024.7 L591.0,1022.9 L594.0,1021.2 L597.0,1019.4 L600.0,1017.6 L603.0,1015.7 L606.0,1013.8 L609.0,1011.9 L612.0,1009.9 L615.0,1007.9 L618.0,1005.9 L621.0,1003.8 L624.0,1001.7 L627.0,999.5 L630.0,997.3 L633.0,995.0 L636.0,992.7 L639.0,990.3 L642.0,987.9 L645.0,985.5 L648.0,982.9 L651.0,980.4 L654.0,977.8 L657.0,975.1 L660.0,972.4 L663.0,969.6 L666.0,966.8 L669.0,963.9 L672.0,960.9 L675.0,957.9 L678.0,954.8 L681.0,951.7 L684.0,948.5 L687.0,945.2 L690.0,941.9 L693.0,938.5 L696.0,935.0 L699.0,931.5 L702.0,927.9 L705.0,924.2 L708.0,920.5 L711.0,916.7 L714.0,912.8 L717.0,908.8 L720.0,904.8 L723.0,900.7 L726.0,896.5 L729.0,892.2 L732.0,887.8 L735.0,883.3 L738.0,878.7 L741.0,873.9 L744.0,869.0 L747.0,863.9 L750.0,858.7 L753.0,853.3 L756.0,847.7 L759.0,841.9 L762.0,835.9 L765.0,829.7 L768.0,823.4 L771.0,816.9 L774.0,810.3 L777.0,803.6 L780.0,796.8 L783.0,789.9 L786.0,783.1 L789.0,776.2 L792.0,769.3 L795.0,762.5 L798.0,755.6 L801.0,748.7 L804.0,741.7 L807.0,734.6 L810.0,727.4 L813.0,720.1 L816.0,712.6 L819.0,705.0 L822.0,697.2 L825.0,689.2 L828.0,681.0 L831.0,672.5 L834.0,663.8 L837.0,654.9 L840.0,645.8 L843.0,636.4 L846.0,626.7 L849.0,616.8 L852.0,606.7 L855.0,596.3 L858.0,585.6 L861.0,574.7 L864.0,563.5 L867.0,552.0 L870.0,540.2 L873.0,528.2 L876.0,516.0 L879.0,503.6 L882.0,491.1 L885.0,478.5 L888.0,466.0 L891.0,453.6 L894.0,441.2 L897.0,429.0 L900.0,417.0 L903.0,405.1 L906.0,393.4 L909.0,382.0 L912.0,370.9 L915.0,360.1 L918.0,349.8 L921.0,339.9 L924.0,330.4 L927.0,321.5 L930.0,313.1 L933.0,305.3 L936.0,298.1 L939.0,291.5 L942.0,285.6 L945.0,280.4 L948.0,275.8 L951.0,271.9 L954.0,268.8 L957.0,266.3 L960.0,264.5 L963.0,263.4 L966.0,263.0 L969.0,263.3 L972.0,264.3 L975.0,265.9 L978.0,268.3 L981.0,271.3 L984.0,275.0 L987.0,279.4 L990.0,284.4 L993.0,290.2 L996.0,296.6 L999.0,303.7 L1002.0,311.4 L1005.0,319.7 L1008.0,328.5 L1011.0,337.8 L1014.0,347.4 L1017.0,357.5 L1020.0,367.8 L1023.0,378.3 L1026.0,389.1 L1029.0,400.1 L1032.0,411.2 L1035.0,422.5 L1038.0,434.0 L1041.0,445.7 L1044.0,457.6 L1047.0,469.6 L1050.0,481.8 L1053.0,494.1 L1056.0,506.4 L1059.0,518.7 L1062.0,531.0 L1065.0,543.1 L1068.0,555.0 L1071.0,566.8 L1074.0,578.2 L1077.0,589.5 L1080.0,600.5 L1083.0,611.3 L1086.0,621.9 L1089.0,632.3 L1092.0,642.4 L1095.0,652.4 L1098.0,662.2 L1101.0,671.7 L1104.0,681.1 L1107.0,690.3 L1110.0,699.3 L1113.0,708.1 L1116.0,716.8 L1119.0,725.3 L1122.0,733.6 L1125.0,741.8 L1128.0,749.8 L1131.0,757.7 L1134.0,765.5 L1137.0,773.1 L1140.0,780.5 L1143.0,787.9 L1146.0,795.1 L1149.0,802.1 L1152.0,809.1 L1155.0,815.8 L1158.0,822.5 L1161.0,828.9 L1164.0,835.2 L1167.0,841.4 L1170.0,847.4 L1173.0,853.2 L1176.0,858.9 L1179.0,864.4 L1182.0,869.7 L1185.0,874.9 L1188.0,879.9 L1191.0,884.8 L1194.0,889.6 L1197.0,894.2 L1200.0,898.6 L1203.0,903.0 L1206.0,907.2 L1209.0,911.3 L1212.0,915.2 L1215.0,919.1 L1218.0,922.8 L1221.0,926.5 L1224.0,930.0 L1227.0,933.5 L1230.0,936.8 L1233.0,940.0 L1236.0,943.2 L1239.0,946.3 L1242.0,949.3 L1245.0,952.2 L1248.0,955.0 L1251.0,957.8 L1254.0,960.5 L1257.0,963.1 L1260.0,965.7 L1263.0,968.3 L1266.0,970.7 L1269.0,973.2 L1272.0,975.5 L1275.0,977.9 L1278.0,980.2 L1281.0,982.4 L1284.0,984.7 L1287.0,986.9 L1290.0,989.1 L1293.0,991.2 L1296.0,993.4 L1299.0,995.5 L1302.0,997.6 L1305.0,999.8 L1308.0,1001.9 L1311.0,1004.0 L1314.0,1006.1 L1317.0,1008.2 L1320.0,1010.3 L1323.0,1012.3 L1326.0,1014.4 L1329.0,1016.4 L1332.0,1018.5 L1335.0,1020.5 L1338.0,1022.5 L1341.0,1024.5 L1344.0,1026.5 L1347.0,1028.4 L1350.0,1030.4 L1353.0,1032.3 L1356.0,1034.2 L1359.0,1036.1 L1362.0,1038.0 L1365.0,1039.8 L1368.0,1041.6 L1371.0,1043.4 L1374.0,1045.2 L1377.0,1047.0 L1380.0,1048.7 L1383.0,1050.4 L1386.0,1052.1 L1389.0,1053.8 L1392.0,1055.4 L1395.0,1057.0 L1398.0,1058.5 L1401.0,1060.1 L1404.0,1061.6 L1407.0,1063.1 L1410.0,1064.5 L1413.0,1065.9 L1416.0,1067.3 L1419.0,1068.7 L1422.0,1070.0 L1425.0,1071.3 L1428.0,1072.6 L1431.0,1073.9 L1434.0,1075.1 L1437.0,1076.4 L1440.0,1077.6 L1443.0,1078.8 L1446.0,1080.0 L1449.0,1081.2 L1452.0,1082.4 L1455.0,1083.6 L1458.0,1084.8 L1461.0,1086.0 L1464.0,1087.2 L1467.0,1088.4 L1470.0,1089.7 L1473.0,1090.9 L1476.0,1092.0 L1479.0,1093.2 L1482.0,1094.3 L1485.0,1095.4 L1488.0,1096.4 L1491.0,1097.4 L1494.0,1098.3 L1497.0,1099.2 L1500.0,1099.9 L1503.0,1100.7 L1506.0,1101.4 L1509.0,1102.0 L1512.0,1102.6 L1515.0,1103.2 L1518.0,1103.7 L1521.0,1104.2 L1524.0,1104.7 L1527.0,1105.1 L1530.0,1105.5 L1533.0,1105.9 L1536.0,1106.3 L1539.0,1106.7 L1542.0,1107.1 L1545.0,1107.5 L1548.0,1107.9 L1551.0,1108.3 L1554.0,1108.6 L1557.0,1109.0 L1560.0,1109.4 L1563.0,1109.7 L1566.0,1110.1 L1569.0,1110.4 L1572.0,1110.8 L1575.0,1111.1 L1578.0,1111.5 L1581.0,1111.8 L1584.0,1112.2 L1587.0,1112.5 L1590.0,1112.8 L1593.0,1113.2 L1596.0,1113.5 L1599.0,1113.8 L1602.0,1114.1 L1605.0,1114.4 L1608.0,1114.8 L1611.0,1115.1 L1614.0,1115.4 L1617.0,1115.7 L1620.0,1116.0 L1623.0,1116.3 L1626.0,1116.6 L1629.0,1116.8 L1632.0,1117.1 L1635.0,1117.4 L1638.0,1117.7 L1641.0,1118.0 L1644.0,1118.2 L1647.0,1118.5 L1650.0,1118.8 L1653.0,1119.0 L1656.0,1119.3 L1659.0,1119.6 L1662.0,1119.8 L1665.0,1120.1 L1668.0,1120.3 L1671.0,1120.6 L1674.0,1120.8 L1677.0,1121.0 L1680.0,1121.3 L1683.0,1121.5 L1686.0,1121.7 L1689.0,1121.9 L1692.0,1122.2 L1695.0,1122.4 L1698.0,1122.6 L1701.0,1122.8 L1704.0,1123.0 L1707.0,1123.2 L1710.0,1123.4 L1713.0,1123.6 L1716.0,1123.8 L1719.0,1124.0 L1722.0,1124.2 L1725.0,1124.4 L1728.0,1124.6 L1731.0,1124.8 L1734.0,1124.9 L1737.0,1125.1 L1740.0,1125.3 L1743.0,1125.4 L1746.0,1125.6 L1749.0,1125.8 L1752.0,1125.9 L1755.0,1126.1 L1758.0,1126.2 L1761.0,1126.4 L1764.0,1126.5 L1767.0,1126.7 L1770.0,1126.8 L1773.0,1126.9 L1776.0,1127.1 L1779.0,1127.2 L1782.0,1127.3 L1785.0,1127.5 L1788.0,1127.6 L1791.0,1127.7 L1794.0,1127.8 L1797.0,1127.9 L1800.0,1128.0 L1803.0,1128.1 L1806.0,1128.2 L1809.0,1128.3 L1812.0,1128.4 L1815.0,1128.5 L1818.0,1128.6 L1821.0,1128.7 L1824.0,1128.8 L1827.0,1128.9 L1830.0,1129.0 L1833.0,1129.1 L1836.0,1129.2 L1839.0,1129.2 L1842.0,1129.3 L1845.0,1129.4 L1848.0,1129.5 L1851.0,1129.6 L1854.0,1129.6 L1857.0,1129.7 L1860.0,1129.8 L1863.0,1129.8 L1866.0,1129.9 L1869.0,1130.0 L1872.0,1130.1 L1875.0,1130.1 L1878.0,1130.2 L1881.0,1130.3 L1884.0,1130.3 L1887.0,1130.4 L1890.0,1130.5 L1893.0,1130.5 L1896.0,1130.6 L1899.0,1130.7 L1902.0,1130.7 L1905.0,1130.8 L1908.0,1130.9 L1911.0,1131.0 L1914.0,1131.0 L1917.0,1131.1 L1920.0,1131.2 L1923.0,1131.2" fill="none" stroke="#8e8e8e" stroke-width="2.7" stroke-linejoin="round" stroke-opacity="0.5"/>
<!-- labels -->
<g font-size="22.2" text-anchor="middle">
<text x="187" y="1173.6">-4</text><text x="578" y="1173.6">-2</text><text x="969.4" y="1173.6">0</text><text x="1360" y="1173.6">+2</text><text x="1751" y="1173.6">+4</text>
</g>
<text x="969.8" y="1209" font-size="30.75" text-anchor="middle">Temperature Anomaly (°C)</text>
<text x="1516.2" y="227" font-size="52.2" text-anchor="middle">2025</text>
<!-- logo -->
<g class="logo">
<g fill="none" stroke="#68bcc6" stroke-width="3.6" stroke-linecap="round" stroke-linejoin="round">
<circle cx="187.05" cy="158.25" r="28.6"/>
<path d="M167.9,137.9 C168.4,137.3 170.9,136.5 172.6,135.8 C174.3,135.1 176.2,134.3 178.0,133.7 C179.8,133.0 182.2,132.1 183.3,131.9 C184.5,131.8 184.8,132.1 184.8,132.8 C184.8,133.5 184.3,135.2 183.3,136.4 C182.4,137.6 180.8,139.2 179.2,139.9 C177.6,140.7 175.4,140.9 173.8,140.8 C172.2,140.7 170.6,139.8 169.6,139.3 C168.7,138.8 167.4,138.5 167.9,137.9Z"/><path d="M169.6,139.3 L170.5,143.8 L168.5,148.0 L164.9,151.5 L167.3,155.7 L165.2,158.7 L161.0,161.1 L167.3,164.0 L169.0,167.3 L167.0,172.4 L167.9,177.4"/><path d="M200.6,136.4 L197.0,137.9 L194.6,142.3 L186.3,143.8 L183.6,146.5 L182.6,151.5 L188.1,152.4 L197.0,151.2 L201.2,154.8 L207.1,156.9 L212.2,155.1"/><path d="M188.1,158.7 L195.2,159.3 L200.6,161.7 L205.4,165.5 L203.6,170.0 L200.6,174.8 L197.0,180.1 L192.9,181.3 L191.1,177.1 L191.1,173.6 L188.1,170.6 L185.1,169.4 L183.9,165.2 L185.1,161.1Z"/>
</g>
<text transform="translate(225.6,150.8) scale(1.005,1)" font-size="12.8" stroke-width="2" letter-spacing="0.9" stroke-linejoin="miter">SOLO HAY</text>
<text transform="translate(225,178.9) scale(1.08,1)" font-size="30" stroke-width="4" stroke-linejoin="miter">UNO</text>
</g>
</svg>
</body></html>
